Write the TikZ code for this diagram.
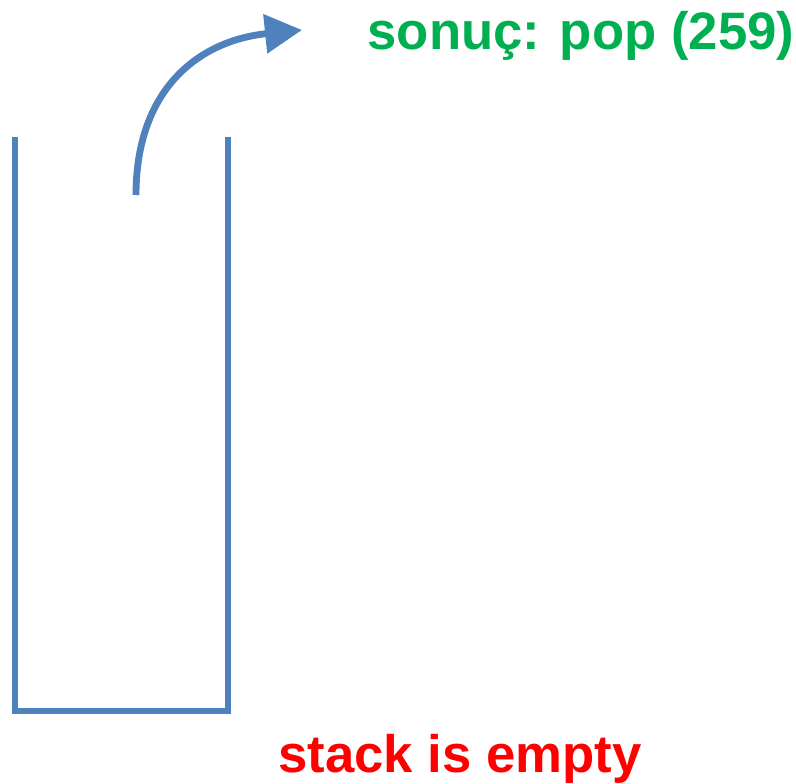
\documentclass[tikz,border=0pt]{standalone}
\usepackage{fontspec}
\setmainfont{Liberation Sans}
\usepackage{xcolor}
\usetikzlibrary{arrows.meta, positioning}
\definecolor{stackblue}{HTML}{4F81BD}
\definecolor{okgreen}{HTML}{00B050}

\begin{document}
\begin{tikzpicture}
  \useasboundingbox (0,0) rectangle (15.92,15.66);
  \tikzset{wall/.style={draw=stackblue, line width=2.85pt}}
  % stack
  \coordinate (TL) at (0.30,12.92);
  \coordinate (BL) at (0.30,1.44);
  \coordinate (BR) at (4.56,1.44);
  \coordinate (TR) at (4.56,12.92);
  \draw[wall] (TL) -- (BL) -- (BR) -- (TR);
  % pop arrow
  \coordinate (Out) at (2.72,11.76);
  \coordinate (Tip) at (6.04,15.06);
  \draw[stackblue, line width=3.9pt, -{Triangle[length=0.74cm, width=0.76cm]}]
    (Out) .. controls (2.72,13.9) and (4.0,14.85) .. (Tip);
  \node[anchor=base, text=okgreen, font=\fontsize{30}{36}\selectfont\bfseries] (Res) at (11.62,14.66) {sonuç: pop (259)};
  \node[anchor=base, text=red, font=\fontsize{30}{36}\selectfont\bfseries] (Msg) at (9.2,0.22) {stack is empty};
\end{tikzpicture}
\end{document}
